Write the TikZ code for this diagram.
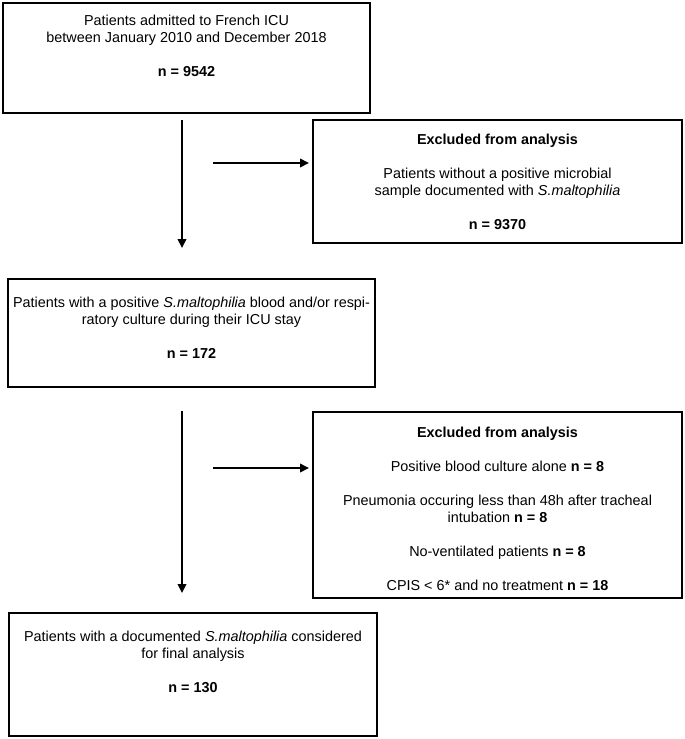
\documentclass[tikz,border=0pt]{standalone}
\usepackage{fontspec}
\setmainfont{Liberation Sans}
\usetikzlibrary{arrows.meta}
\begin{document}
\begin{tikzpicture}[x=1pt,y=-1pt,
  boxframe/.style={draw=black,line width=2.7pt,inner sep=0pt,fill=none},
  txt/.style={align=center,inner sep=0pt,anchor=north,font=\fontsize{14.4}{17}\selectfont},
  arr/.style={draw=black,line width=2pt,-{Triangle[length=9pt,width=8.5pt]}}]
\useasboundingbox (0,0) rectangle (685,739);
% boxes
\node[boxframe,minimum width=367pt,minimum height=110pt] (b1) at (186.5,58) {};
\node[boxframe,minimum width=369pt,minimum height=123pt] (b2) at (497.5,181.5) {};
\node[boxframe,minimum width=367pt,minimum height=108pt] (b3) at (191.5,333) {};
\node[boxframe,minimum width=369pt,minimum height=186pt] (b4) at (497.5,505) {};
\node[boxframe,minimum width=368pt,minimum height=123pt] (b5) at (193,674.5) {};
% texts
\node[txt] (t1) at (186.5,14.5) {Patients admitted to French ICU\\between January 2010 and December 2018\\[17pt]\textbf{n = 9542}};
\node[txt] (t2) at (497.5,133.5) {\textbf{Excluded from analysis}\\[17pt]Patients without a positive microbial\\sample documented with \textit{S.maltophilia}\\[17pt]\textbf{n = 9370}};
\node[txt] (t3) at (191.5,296.5) {Patients with a positive \textit{S.maltophilia} blood and/or respi-\\ratory culture during their ICU stay\\[17pt]\textbf{n = 172}};
\node[txt] (t4) at (497.5,426.5) {\textbf{Excluded from analysis}\\[17pt]Positive blood culture alone \textbf{n = 8}\\[17pt]Pneumonia occuring less than 48h after tracheal\\intubation \textbf{n = 8}\\[17pt]No-ventilated patients \textbf{n = 8}\\[17pt]CPIS < 6* and no treatment \textbf{n = 18}};
\node[txt] (t5) at (193,630.5) {Patients with a documented \textit{S.maltophilia} considered\\for final analysis\\[17pt]\textbf{n = 130}};
% connectors
\coordinate (v1s) at (182,120);
\coordinate (v1e) at (182,248);
\coordinate (h1s) at (213,163);
\coordinate (h1e) at (309,163);
\coordinate (v2s) at (182,411);
\coordinate (v2e) at (182,593);
\coordinate (h2s) at (213,468);
\coordinate (h2e) at (309,468);
\draw[arr] (v1s) -- (v1e);
\draw[arr] (h1s) -- (h1e);
\draw[arr] (v2s) -- (v2e);
\draw[arr] (h2s) -- (h2e);
\end{tikzpicture}
\end{document}
